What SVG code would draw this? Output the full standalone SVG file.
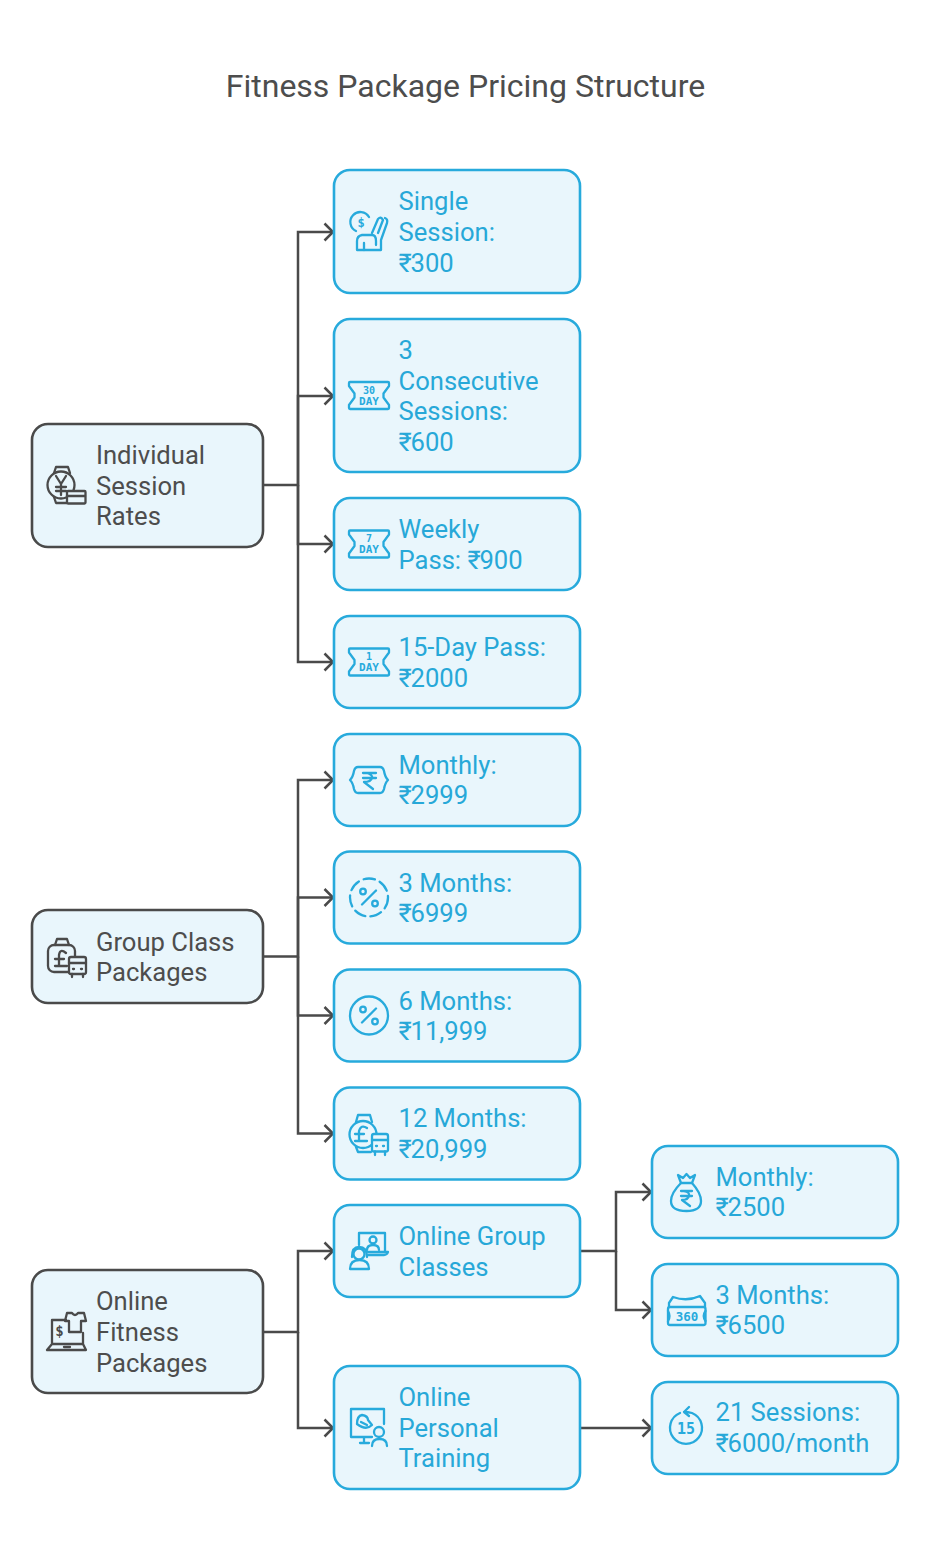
<svg xmlns="http://www.w3.org/2000/svg" width="930" height="1552" viewBox="0 0 930 1552">
<style>
text{font-family:Roboto,"Liberation Sans",sans-serif;font-size:25.6px}
.title{font-size:32px;fill:#4d4d4d}
.p rect{fill:#e9f6fc;stroke:#4a4a4a;stroke-width:2.6}
.c rect{fill:#e9f6fc;stroke:#27aadc;stroke-width:2.6}
.p text{fill:#4d4d4d}
.c text{fill:#27a8d8}
.r{letter-spacing:-1.2px}
.p .i *{stroke:#4a4a4a;fill:none;stroke-width:2.3;stroke-linecap:round;stroke-linejoin:round}
.c .i *{stroke:#27aadc;fill:none;stroke-width:2.3;stroke-linecap:round;stroke-linejoin:round}
.p .i text,.c .i text{stroke:none;font-family:"DejaVu Sans Mono",monospace;font-weight:700;text-anchor:middle}
.c .i text{fill:#27aadc}
.p .i text{fill:#4a4a4a}
.c .i .f,.p .i .f{fill:#e9f6fc}
#connectors path{fill:none;stroke:#4a4a4a;stroke-width:2.5}
</style>
<defs>
<marker id="a" markerUnits="userSpaceOnUse" markerWidth="20" markerHeight="24" refX="16" refY="12" orient="auto"><path d="M7.500 3.500 L16 12 L7.500 20.500" fill="none" stroke="#4a4a4a" stroke-width="2.500"/></marker>
<path id="tk" d="M-19-13.500H19Q20-13.500 20-12.500V-9.500L14.500-2V2L20 9.500V12.500Q20 13.500 19 13.500H-19Q-20 13.500-20 12.500V9.500L-14.500 2V-2L-20-9.500V-12.500Q-20-13.500-19-13.500Z"/>
</defs>
<rect width="930" height="1552" fill="#fff"/>
<text class="title" x="465.500" y="97" text-anchor="middle">Fitness Package Pricing Structure</text>
<g id="connectors">
<path d="M263 485H298V232H333" marker-end="url(#a)"/>
<path d="M298 485V396H333" marker-end="url(#a)"/>
<path d="M298 485V544H333" marker-end="url(#a)"/>
<path d="M298 485V662H333" marker-end="url(#a)"/>
<path d="M263 956.500H298V780H333" marker-end="url(#a)"/>
<path d="M298 956.500V897.500H333" marker-end="url(#a)"/>
<path d="M298 956.500V1015.500H333" marker-end="url(#a)"/>
<path d="M298 956.500V1133.500H333" marker-end="url(#a)"/>
<path d="M263 1332H298V1251H333" marker-end="url(#a)"/>
<path d="M298 1332V1428H333" marker-end="url(#a)"/>
<path d="M581 1251H616V1192H651" marker-end="url(#a)"/>
<path d="M616 1251V1310H651" marker-end="url(#a)"/>
<path d="M581 1428H651" marker-end="url(#a)"/>
</g>
<g id="n1" class="p"><rect x="32" y="424" width="231" height="123" rx="16"/>
<g class="i"><path d="M54 473L56 467H68L70 473M54 497L56 503H67"/><circle cx="61" cy="485" r="13.500"/><path d="M56 476L61 484L66 476M61 484V495M56 487H66M56 491H66"/><rect class="f" x="67" y="491" width="18.500" height="12.500" rx="1"/><path d="M67 496H85"/></g>
<text x="96" y="464">Individual</text><text x="96" y="495">Session</text><text x="96" y="525">Rates</text></g>
<g id="n2" class="p"><rect x="32" y="910" width="231" height="93" rx="16"/>
<g class="i"><path d="M55 945L57 939H67L69 945"/><rect x="48" y="945" width="27" height="27" rx="6"/><path d="M66 953Q60 948 59 955V966M55 959H64M55 966H67"/><rect class="f" x="69" y="957" width="17" height="17" rx="2"/><path d="M69 963H86M72 974V977M83 974V977M73 969H74M81 969H82"/></g>
<text x="96" y="951">Group Class</text><text x="96" y="981">Packages</text></g>
<g id="n3" class="p"><rect x="32" y="1270" width="231" height="123" rx="16"/>
<g class="i"><path d="M66 1320H52V1344M83 1333V1344M52 1344L47 1350H86L83 1344Z"/><path d="M67 1313H72Q75 1317 78 1313H84L86 1321H81V1332H69V1321H65Z"/><path d="M64 1347H70"/><text x="59.500" y="1336" style="font-size:14px">$</text></g>
<text x="96" y="1310">Online</text><text x="96" y="1341">Fitness</text><text x="96" y="1372">Packages</text></g>
<g id="n4" class="c"><rect x="334" y="170" width="246" height="123" rx="16"/>
<g class="i"><path d="M369 217A10 10 0 1 0 356 231"/><path d="M372 233L378 219Q381 216 383 220L378 233"/><path d="M385 218Q388 219 387 223L381 240V250H357V241Q357 236 362 235H372Q376 235 376 241V245"/><path d="M364 250V243"/><text x="361" y="227" style="font-size:12px">$</text></g>
<text x="398.500" y="210">Single</text><text x="398.500" y="241">Session:</text><text x="398.500" y="272"><tspan class="r">₹</tspan>300</text></g>
<g id="n5" class="c"><rect x="334" y="319" width="246" height="153" rx="16"/>
<g class="i"><use href="#tk" x="369" y="395.500"/><text x="369" y="393.500" style="font-size:10px">30</text><text x="369" y="404.500" style="font-size:11px">DAY</text></g>
<text x="398.500" y="359">3</text><text x="398.500" y="390">Consecutive</text><text x="398.500" y="420">Sessions:</text><text x="398.500" y="451"><tspan class="r">₹</tspan>600</text></g>
<g id="n6" class="c"><rect x="334" y="498" width="246" height="92" rx="16"/>
<g class="i"><use href="#tk" x="369" y="544"/><text x="369" y="542" style="font-size:10px">7</text><text x="369" y="553" style="font-size:11px">DAY</text></g>
<text x="398.500" y="538">Weekly</text><text x="398.500" y="569">Pass: <tspan class="r">₹</tspan>900</text></g>
<g id="n7" class="c"><rect x="334" y="616" width="246" height="92" rx="16"/>
<g class="i"><use href="#tk" x="369" y="662"/><text x="369" y="660" style="font-size:10px">1</text><text x="369" y="671" style="font-size:11px">DAY</text></g>
<text x="398.500" y="656">15-Day Pass:</text><text x="398.500" y="686.500"><tspan class="r">₹</tspan>2000</text></g>
<g id="n8" class="c"><rect x="334" y="734" width="246" height="92" rx="16"/>
<g class="i"><path d="M358 767H380Q383 767 384 771Q385 777 388 780Q385 783 384 789Q383 793 380 793H358Q355 793 354 789Q353 783 350 780Q353 777 354 771Q355 767 358 767Z"/><path d="M363 773H376M363 778H376M367 773Q373 775 372 778Q371 782 364 782L373 789"/></g>
<text x="398.500" y="774">Monthly:</text><text x="398.500" y="804"><tspan class="r">₹</tspan>2999</text></g>
<g id="n9" class="c"><rect x="334" y="851.500" width="246" height="92" rx="16"/>
<g class="i"><circle cx="369" cy="897.500" r="19" stroke-dasharray="11.500 5.200"/><path d="M362 904.500L376 890.500"/><circle cx="363" cy="891.500" r="2.800"/><circle cx="375" cy="903.500" r="2.800"/></g>
<text x="398.500" y="891.500">3 Months:</text><text x="398.500" y="921.500"><tspan class="r">₹</tspan>6999</text></g>
<g id="n10" class="c"><rect x="334" y="969.500" width="246" height="92" rx="16"/>
<g class="i"><circle cx="369" cy="1015.500" r="19"/><path d="M362 1022.500L376 1008.500"/><circle cx="363" cy="1009.500" r="2.800"/><circle cx="375" cy="1021.500" r="2.800"/></g>
<text x="398.500" y="1009.500">6 Months:</text><text x="398.500" y="1039.500"><tspan class="r">₹</tspan>11,999</text></g>
<g id="n11" class="c"><rect x="334" y="1087.500" width="246" height="92" rx="16"/>
<g class="i"><path d="M356 1122L358 1115H370L372 1122M356 1147L358 1152H371"/><circle cx="363" cy="1134.500" r="13.500"/><path d="M367 1128Q361 1124 359 1131V1141M355 1134H364M355 1141H367"/><rect class="f" x="372" y="1134" width="16" height="17.500" rx="2"/><path d="M372 1140H388M375 1151.500V1155M385 1151.500V1155M376 1146H377M383 1146H384"/></g>
<text x="398.500" y="1127">12 Months:</text><text x="398.500" y="1157.500"><tspan class="r">₹</tspan>20,999</text></g>
<g id="n12" class="c"><rect x="334" y="1205" width="246" height="92" rx="16"/>
<g class="i"><path d="M359 1245V1233H385V1252"/><path d="M368 1252H388Q387 1255 384 1255H368"/><circle cx="373" cy="1240" r="3.500"/><path d="M367 1250Q367 1245 373 1245Q379 1245 379 1250"/><path d="M352 1257Q352 1247 359 1247Q367 1247 367 1257"/><circle cx="359" cy="1254" r="5.500"/><path d="M350 1269Q350 1260 359.500 1260Q369 1260 369 1269Z"/></g>
<text x="398.500" y="1245">Online Group</text><text x="398.500" y="1276">Classes</text></g>
<g id="n13" class="c"><rect x="334" y="1366" width="246" height="123" rx="16"/>
<g class="i"><path d="M372 1437H351V1409H384V1424M364 1437V1443M360 1443H369"/><path d="M357 1424Q357 1416 362 1415Q368 1416 368 1420L372 1425Q366 1431 357 1424Z"/><path d="M361 1422L367 1425"/><circle cx="379" cy="1432" r="5"/><path d="M372 1446Q372 1439 379.500 1439Q387 1439 387 1446"/></g>
<text x="398.500" y="1406">Online</text><text x="398.500" y="1437">Personal</text><text x="398.500" y="1467">Training</text></g>
<g id="n14" class="c"><rect x="652" y="1146" width="246" height="92" rx="16"/>
<g class="i"><path d="M681 1183L678 1175L683 1178L686.500 1174L690 1178L695 1175L692 1183M681 1183H692"/><path d="M681 1183Q671 1193 671 1201Q671 1211 686.500 1211Q701 1211 701 1201Q701 1193 692 1183"/><path d="M681 1191H692M681 1196H692M684 1191Q690 1192 689 1196Q688 1200 682 1200L690 1206"/></g>
<text x="715.500" y="1186">Monthly:</text><text x="715.500" y="1216"><tspan class="r">₹</tspan>2500</text></g>
<g id="n15" class="c"><rect x="652" y="1264" width="246" height="92" rx="16"/>
<g class="i"><path d="M669 1307V1303L673 1297Q687 1302 700 1296L705 1303V1307"/><rect x="668" y="1307" width="37.500" height="18" rx="2"/><text x="687" y="1320.500" style="font-size:12.500px">360</text><path d="M668 1311Q671 1316 668 1321M705.500 1311Q702 1316 705.500 1321"/></g>
<text x="715.500" y="1304">3 Months:</text><text x="715.500" y="1334"><tspan class="r">₹</tspan>6500</text></g>
<g id="n16" class="c"><rect x="652" y="1382" width="246" height="92" rx="16"/>
<g class="i"><path d="M680 1413A16 16 0 1 0 692 1413Q688 1412 684 1412M689 1407L684 1412L689 1416"/><text x="686" y="1434" style="font-size:15px">15</text></g>
<text x="715.500" y="1421">21 Sessions:</text><text x="715.500" y="1452"><tspan class="r">₹</tspan>6000/month</text></g>
</svg>
